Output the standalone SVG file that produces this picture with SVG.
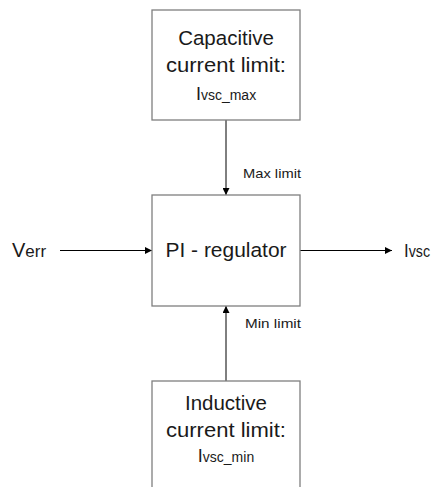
<svg xmlns="http://www.w3.org/2000/svg" width="435" height="487" viewBox="0 0 435 487">
<defs>
<marker id="ah" viewBox="0 0 10 10" refX="10" refY="5" markerWidth="7" markerHeight="7" markerUnits="userSpaceOnUse" orient="auto">
<path d="M0,0 L10,5 L0,10 Z" fill="#000"/>
</marker>
<style>
.box{fill:#fff;stroke:#7f7f7f;stroke-width:1.3}
.t{font-family:"Liberation Sans",Arial,sans-serif;fill:#1a1a1a}
.big{font-size:20.5px}
.sub{font-size:14px}
.lbl{font-size:13.5px}
.c{stroke:#000;stroke-width:1;fill:none;marker-end:url(#ah)}
</style>
</defs>
<rect width="435" height="487" fill="#fff"/>
<g id="connectors">
<line class="c" x1="226" y1="120" x2="226" y2="195"/>
<line class="c" x1="226" y1="381" x2="226" y2="306"/>
<line class="c" x1="60" y1="250.5" x2="152" y2="250.5"/>
<line class="c" x1="300" y1="250.5" x2="392" y2="250.5"/>
<text class="t lbl" x="243" y="178" textLength="58" lengthAdjust="spacingAndGlyphs">Max limit</text>
<text class="t lbl" x="245" y="328" textLength="56" lengthAdjust="spacingAndGlyphs">Min limit</text>
</g>
<g id="capacitive">
<rect class="box" x="152" y="10" width="148" height="110"/>
<text class="t big" x="226" y="45" text-anchor="middle">Capacitive</text>
<text class="t big" x="226" y="72" text-anchor="middle" textLength="120" lengthAdjust="spacingAndGlyphs">current limit:</text>
<text class="t" x="226" y="100" text-anchor="middle"><tspan font-size="18">I</tspan><tspan class="sub">vsc_max</tspan></text>
</g>
<g id="pi">
<rect class="box" x="152" y="195" width="148" height="111"/>
<text class="t big" x="226" y="257" text-anchor="middle" textLength="121" lengthAdjust="spacingAndGlyphs">PI - regulator</text>
</g>
<g id="inductive">
<rect class="box" x="152" y="381" width="148" height="130"/>
<text class="t big" x="226" y="410" text-anchor="middle">Inductive</text>
<text class="t big" x="226" y="437" text-anchor="middle" textLength="120" lengthAdjust="spacingAndGlyphs">current limit:</text>
<text class="t" x="226" y="462" text-anchor="middle"><tspan font-size="18">I</tspan><tspan class="sub">vsc_min</tspan></text>
</g>
<g id="verr">
<text class="t" x="12" y="257"><tspan font-size="20">V</tspan><tspan font-size="17">err</tspan></text>
</g>
<g id="ivsc">
<text class="t" x="404" y="257" textLength="26" lengthAdjust="spacingAndGlyphs"><tspan font-size="19">I</tspan><tspan font-size="16">vsc</tspan></text>
</g>
</svg>
